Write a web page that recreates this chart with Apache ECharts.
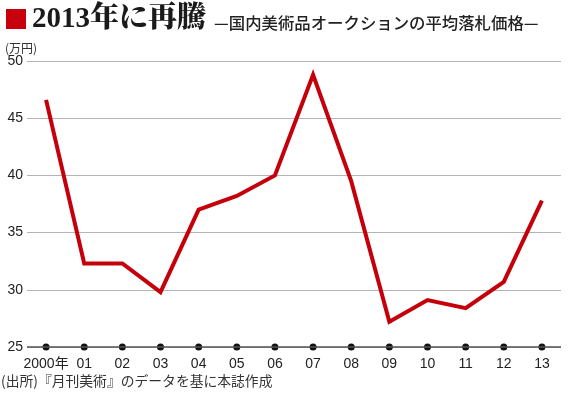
<!DOCTYPE html>
<html>
<head>
<meta charset="utf-8">
<script src="https://cdn.jsdelivr.net/npm/echarts@6/dist/echarts.min.js"></script>
<style>
  html, body { margin: 0; padding: 0; background: #fff; }
  #chart { width: 570px; height: 399px; }
</style>
</head>
<body>
<div id="chart"></div>
<script>
var years = ['2000年', '01', '02', '03', '04', '05', '06', '07', '08', '09', '10', '11', '12', '13'];
var prices = [46.6, 32.3, 32.3, 29.8, 37.0, 38.2, 40.0, 48.8, 39.5, 27.2, 29.1, 28.4, 30.7, 37.8];
var yTicks = [25, 30, 35, 40, 45, 50];

var sansFont = '"Liberation Sans", Arial, "Noto Sans CJK JP", sans-serif';
var chart = echarts.init(document.getElementById('chart'));
var option = {
    animation: false,
    backgroundColor: '#fff',
    grid: {
        left: 27,
        right: 9,
        top: 61,
        bottom: 52,
        containLabel: false
    },
    graphic: [
        {
            type: 'rect',
            shape: { x: 6, y: 9, width: 20, height: 20 },
            style: { fill: '#c8000e' }
        },
        {
            type: 'text',
            left: 32,
            top: 5,
            style: {
                text: '2013年に再騰',
                font: '900 29px "Liberation Serif", "Noto Serif CJK JP", "Noto Sans CJK JP", serif',
                fill: '#1a1a1a'
            }
        },
        {
            type: 'text',
            left: 214,
            top: 15,
            style: {
                text: '—国内美術品オークションの平均落札価格—',
                font: '500 16.4px "Noto Sans CJK JP", sans-serif',
                fill: '#222'
            }
        },
        {
            type: 'text',
            left: 5,
            top: 42,
            style: {
                text: '(万円)',
                font: '12px "Noto Sans CJK JP", sans-serif',
                fill: '#333'
            }
        },
        {
            type: 'text',
            left: 1,
            top: 374,
            style: {
                text: '(出所)『月刊美術』のデータを基に本誌作成',
                font: '13.8px "Noto Sans CJK JP", sans-serif',
                fill: '#333'
            }
        }
    ],
    xAxis: {
        type: 'category',
        data: years,
        boundaryGap: true,
        axisLine: { show: false },
        axisTick: { show: false },
        axisLabel: {
            interval: 0,
            margin: 10,
            color: '#222',
            fontSize: 14,
            fontFamily: sansFont
        },
        splitLine: { show: false }
    },
    yAxis: {
        type: 'value',
        min: yTicks[0],
        max: yTicks[yTicks.length - 1],
        interval: 5,
        axisLine: { show: false },
        axisTick: { show: false },
        axisLabel: {
            margin: 4,
            color: '#222',
            fontSize: 14,
            fontFamily: sansFont
        },
        splitLine: {
            lineStyle: { color: '#b4b4b4', width: 1 }
        }
    },
    series: [
        {
            name: 'base',
            type: 'line',
            data: years.map(function () { return yTicks[0]; }),
            symbol: 'circle',
            symbolSize: 7,
            itemStyle: { color: '#111' },
            lineStyle: { width: 0 },
            silent: true,
            z: 3,
            // bottom baseline at 25 drawn darker
            markLine: {
                silent: true,
                symbol: 'none',
                label: { show: false },
                lineStyle: { color: '#555', width: 1.5, type: 'solid' },
                data: [{ yAxis: yTicks[0] }]
            }
        },
        {
            name: '平均落札価格',
            type: 'line',
            data: prices,
            symbol: 'none',
            lineStyle: { color: '#c4000b', width: 4, join: 'miter' },
            z: 4
        }
    ]
};
chart.setOption(option);
window.addEventListener('resize', function () {
    chart.resize();
});
</script>
</body>
</html>
